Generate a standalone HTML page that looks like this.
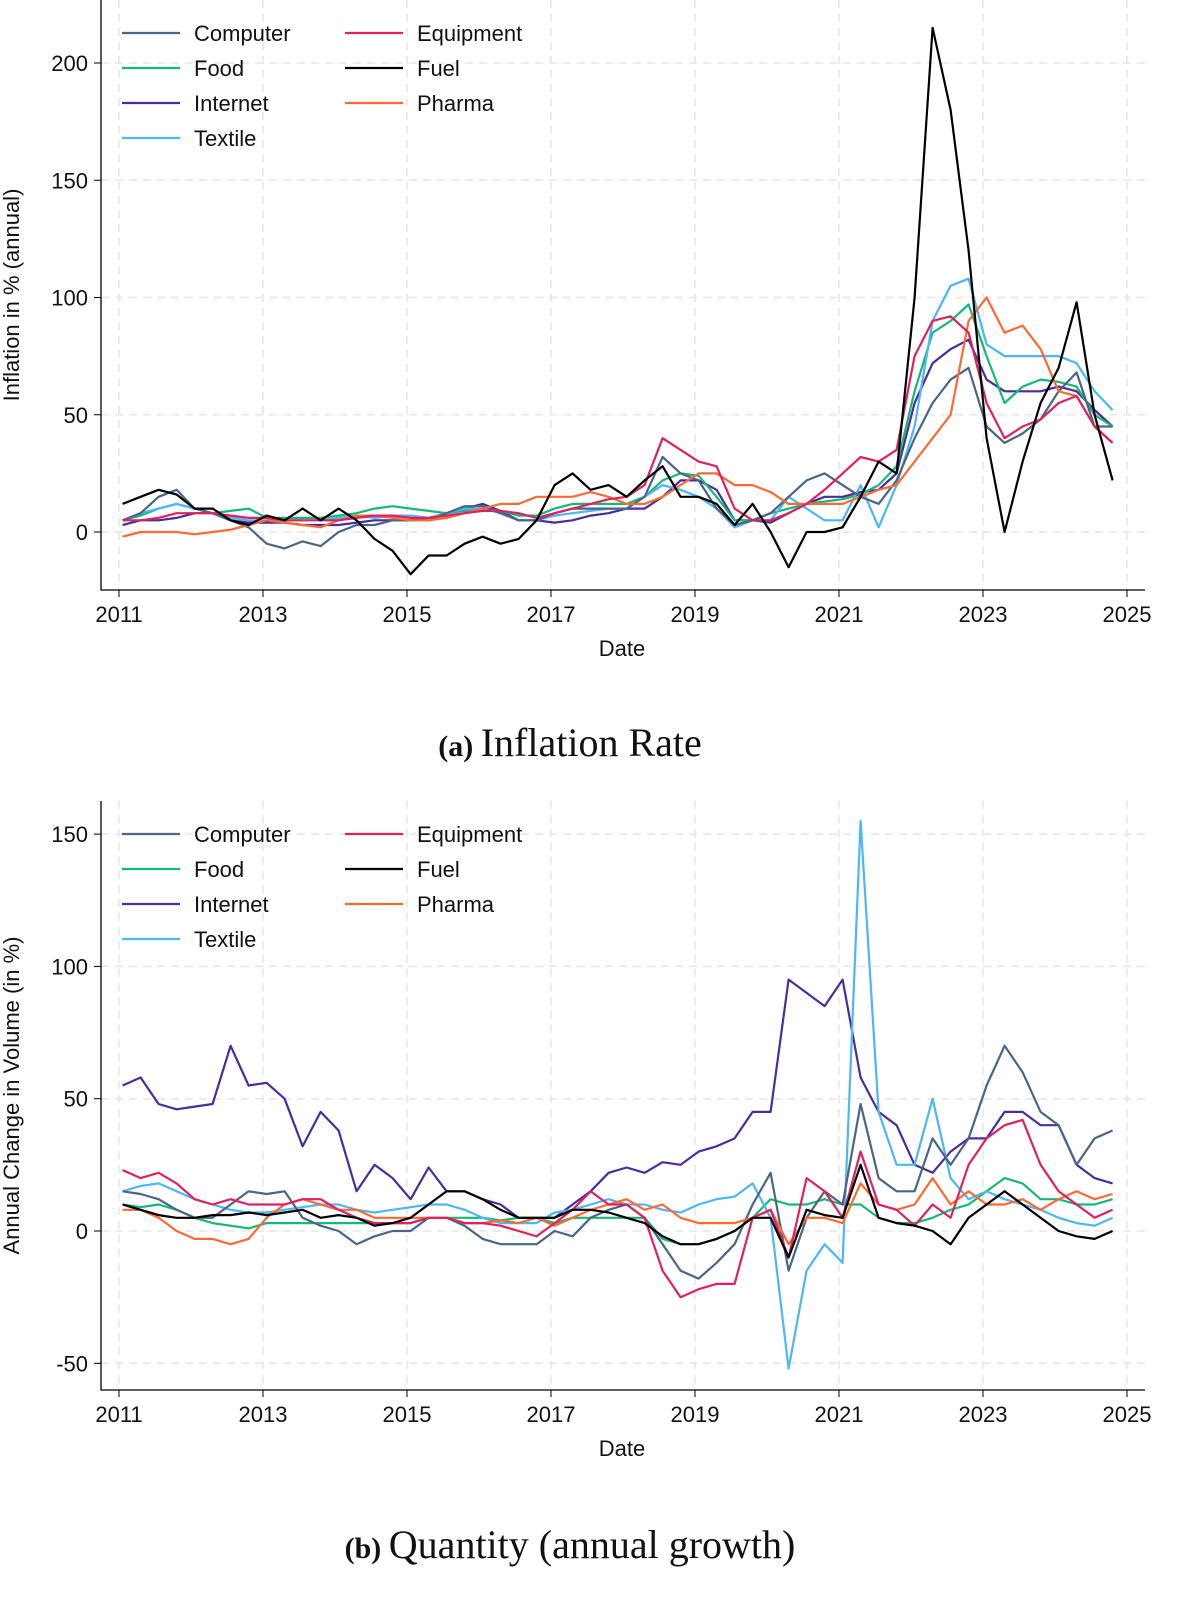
<!DOCTYPE html>
<html><head><meta charset="utf-8">
<style>
html,body{margin:0;padding:0;background:#fff;overflow:hidden;width:1182px;height:1604px;}
svg{display:block;}
svg text{font-family:"Liberation Sans",sans-serif;fill:#111;}
</style></head>
<body>
<svg id="chart" width="1182" height="1604" xmlns="http://www.w3.org/2000/svg"></svg>
<script>
const seriesNames=["Computer","Food","Internet","Textile","Equipment","Fuel","Pharma"];
const seriesColors=["#4a6585","#17b877","#4a2c9b","#4db6f5","#de2160","#000000","#fb6a33"];
const xTicks=[2011,2013,2015,2017,2019,2021,2023,2025];
const yTicksA=[0,50,100,150,200];
const yTicksB=[-50,0,50,100,150];
const inflComputer=[5,8,15,18,10,8,5,2,-5,-7,-4,-6,0,3,3,5,5,5,8,11,11,8,5,5,8,10,10,10,10,15,32,25,22,10,3,5,8,15,22,25,20,15,12,22,40,55,65,70,45,38,42,48,60,68,45,45];
const inflFood=[5,7,10,12,10,8,9,10,6,6,6,6,7,8,10,11,10,9,8,9,10,9,7,7,10,12,12,12,12,15,22,25,24,15,5,5,8,10,12,13,14,16,20,28,60,85,90,97,75,55,62,65,64,62,50,45];
const inflInternet=[3,5,5,6,8,8,5,4,4,4,3,3,3,4,5,5,5,6,8,10,12,9,5,5,4,5,7,8,10,10,15,22,22,18,5,5,4,8,12,15,15,17,18,25,55,72,78,82,65,60,60,60,62,60,52,45];
const inflTextile=[5,8,10,12,10,8,6,5,5,5,5,5,6,7,6,7,7,6,8,10,10,8,5,5,7,8,9,10,10,15,20,18,15,10,2,5,5,15,10,5,5,20,2,20,45,90,105,108,80,75,75,75,75,72,60,52];
const inflEquipment=[5,5,6,8,8,8,7,6,6,5,5,5,5,6,7,7,6,6,7,8,9,9,8,6,8,10,12,14,15,20,40,35,30,28,10,5,5,8,12,18,25,32,30,35,75,90,92,85,55,40,45,48,55,58,45,38];
const inflFuel=[12,15,18,16,10,10,5,3,7,5,10,5,10,5,-3,-8,-18,-10,-10,-5,-2,-5,-3,5,20,25,18,20,15,22,28,15,15,12,3,12,0,-15,0,0,2,15,30,25,100,215,180,120,40,0,30,55,70,98,50,22];
const inflPharma=[-2,0,0,0,-1,0,1,3,5,4,3,2,5,7,7,6,5,5,6,8,10,12,12,15,15,15,17,15,12,12,15,20,25,25,20,20,17,12,12,12,12,15,18,20,30,40,50,90,100,85,88,78,60,58,45,38];
const qtyComputer=[15,14,12,8,5,5,10,15,14,15,5,2,0,-5,-2,0,0,5,5,2,-3,-5,-5,-5,0,-2,5,8,10,5,-5,-15,-18,-12,-5,10,22,-15,5,15,10,48,20,15,15,35,25,35,55,70,60,45,40,25,35,38];
const qtyFood=[10,9,10,8,5,3,2,1,3,3,3,3,3,3,3,3,3,5,5,5,5,4,5,5,3,5,5,5,5,5,-3,-5,-5,-3,0,5,12,10,10,12,10,10,5,3,3,5,8,10,15,20,18,12,12,10,10,12];
const qtyInternet=[55,58,48,46,47,48,70,55,56,50,32,45,38,15,25,20,12,24,15,15,12,10,5,5,5,10,15,22,24,22,26,25,30,32,35,45,45,95,90,85,95,58,45,40,25,22,30,35,35,45,45,40,40,25,20,18];
const qtyTextile=[15,17,18,15,12,10,8,7,7,8,9,10,10,8,7,8,9,10,10,8,5,3,3,3,7,8,10,12,10,10,8,7,10,12,13,18,5,-52,-15,-5,-12,155,45,25,25,50,20,12,15,12,10,8,5,3,2,5];
const qtyEquipment=[23,20,22,18,12,10,12,10,10,10,12,12,8,5,3,3,3,5,5,3,3,2,0,-2,3,8,15,10,10,5,-15,-25,-22,-20,-20,5,8,-10,20,15,5,30,10,8,2,10,5,25,35,40,42,25,15,10,5,8];
const qtyFuel=[10,8,6,5,5,6,6,7,6,7,8,5,6,5,2,3,5,10,15,15,12,8,5,5,5,8,8,7,5,3,-2,-5,-5,-3,0,5,5,-10,8,6,5,25,5,3,2,0,-5,5,10,15,10,5,0,-2,-3,0];
const qtyPharma=[8,8,5,0,-3,-3,-5,-3,5,10,12,10,8,8,5,5,5,5,5,3,3,4,3,5,2,5,8,10,12,8,10,5,3,3,3,5,8,-5,5,5,3,18,10,8,10,20,10,15,10,10,12,8,12,15,12,14];

const svg=document.getElementById('chart');
const NS="http://www.w3.org/2000/svg";
function mk(tag,attrs,parent){const e=document.createElementNS(NS,tag);for(const k in attrs)e.setAttribute(k,attrs[k]);(parent||svg).appendChild(e);return e;}
const xScale=t=>119+(t-2011)*72;
function dateAt(i){return 2011.05+i*0.25;}

function panel(cfg){
  const g=mk('g',{});
  
  
  const ys=v=>cfg.y0+(v)*cfg.pxPer;
  cfg.yTicks.forEach(v=>{
    const l=mk('line',{x1:101,x2:1145,y1:ys(v),y2:ys(v),stroke:'#e6e6e6','stroke-width':1.5,'stroke-dasharray':'8,6'},g);
    
    
  });
  xTicks.forEach(t=>{
    const l=mk('line',{x1:xScale(t),x2:xScale(t),y1:cfg.top,y2:cfg.bottom,stroke:'#e6e6e6','stroke-width':1.5,'stroke-dasharray':'8,6'},g);
    
    
  });
  const ax=mk('path',{d:`M101,${cfg.top} L101,${cfg.bottom} L1145,${cfg.bottom}`,fill:'none',stroke:'#000','stroke-width':1.3},g);
  
  
  cfg.yTicks.forEach(v=>{
    mk('line',{x1:94,x2:101,y1:ys(v),y2:ys(v),stroke:'#000'},g);
    const tx=mk('text',{x:88,y:ys(v)+8,'text-anchor':'end','font-size':22},g);
    tx.textContent=v;
    
    
  });
  xTicks.forEach(t=>{
    mk('line',{x1:xScale(t),x2:xScale(t),y1:cfg.bottom,y2:cfg.bottom+7,stroke:'#000'},g);
    const tx=mk('text',{x:xScale(t),y:cfg.bottom+32,'text-anchor':'middle','font-size':22},g);
    tx.textContent=t;
    
    
  });
  const xt=mk('text',{x:622,y:cfg.bottom+66,'text-anchor':'middle','font-size':22},g);
  xt.textContent='Date';
  
  
  const cy=(cfg.top+cfg.bottom)/2;
  const yt=mk('text',{x:0,y:0,'text-anchor':'middle','font-size':22,transform:`translate(19,${cy}) rotate(-90)`},g);
  yt.textContent=cfg.yTitle;
  
  
  const order=[2,1,3,0,6,4,5];
  order.forEach(k=>{
    const vals=cfg.data[k];
    const pts=vals.map((v,i)=>xScale(dateAt(i)).toFixed(1)+','+ys(v).toFixed(1)).join(' ');
    const p=mk('polyline',{points:pts,fill:'none',stroke:seriesColors[k],'stroke-width':2.2,'stroke-linejoin':'round'},g);
    
    
  });
  const lg=mk('g',{},g);
  
  
  const legendOrder=[[0,0,0],[4,1,0],[1,0,1],[5,1,1],[2,0,2],[6,1,2],[3,0,3]];
  legendOrder.forEach(([k,c,r])=>{
    const lx=c?345:122, ly=cfg.top+33+r*35;
    const e=mk('g',{},lg);
    
    
    mk('line',{x1:lx,x2:lx+58,y1:ly,y2:ly,stroke:seriesColors[k],'stroke-width':2.2},e);
    const t=mk('text',{x:lx+72,y:ly+8,'font-size':22},e);
    t.textContent=seriesNames[k];
  });
  const cap=mk('text',{x:570,y:cfg.capY,'text-anchor':'middle','font-size':40,style:'font-family:"Liberation Serif",serif'},g);
  
  
  const b=mk('tspan',{'font-weight':'bold','font-size':30},cap);b.textContent=cfg.capLabel+' ';
  const r=mk('tspan',{},cap);r.textContent=cfg.caption;
}
panel({name:'panel-inflation',top:0,bottom:590,y0:532,pxPer:-117.25/50,yTicks:yTicksA,yTitle:'Inflation in % (annual)',
  data:[inflComputer,inflFood,inflInternet,inflTextile,inflEquipment,inflFuel,inflPharma],capY:756,capLabel:'(a)',caption:'Inflation Rate'});
panel({name:'panel-quantity',top:801,bottom:1390,y0:1231,pxPer:-132.3/50,yTicks:yTicksB,yTitle:'Annual Change in Volume (in %)',
  data:[qtyComputer,qtyFood,qtyInternet,qtyTextile,qtyEquipment,qtyFuel,qtyPharma],capY:1558,capLabel:'(b)',caption:'Quantity (annual growth)'});
</script>
</body></html>
